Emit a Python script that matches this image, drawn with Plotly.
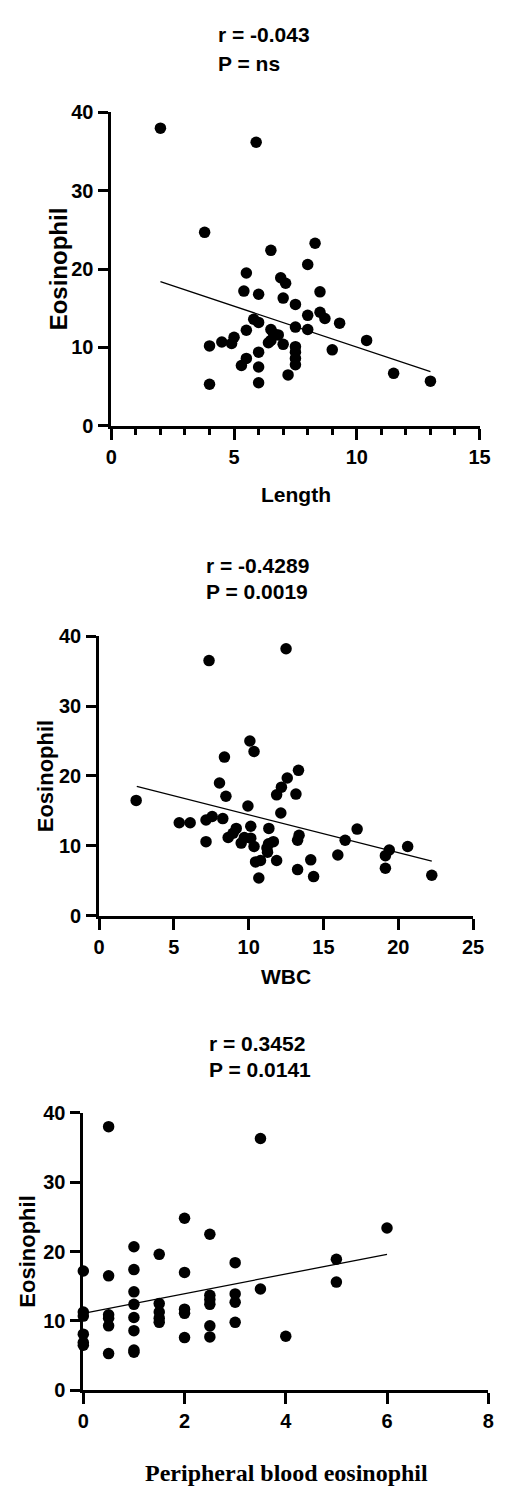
import plotly.graph_objects as go

W, H = 506, 1492

# Panel 1: Length vs Eosinophil
length_x = [2.0, 5.9, 3.8, 6.5, 8.3, 8.0, 5.5, 6.9, 7.1, 5.4, 6.0, 8.5, 7.0, 7.5, 5.8, 6.0,
            8.0, 8.5, 8.7, 9.3, 7.5, 8.0, 5.5, 6.5, 6.6, 6.8, 6.5, 6.4, 7.0, 5.0, 4.9, 4.5,
            4.0, 10.4, 7.5, 7.5, 9.0, 6.0, 7.5, 5.5, 5.3, 6.0, 7.5, 7.2, 11.5, 13.0, 4.0, 6.0]
length_eos = [38.0, 36.2, 24.7, 22.4, 23.3, 20.6, 19.5, 18.9, 18.2, 17.2, 16.8, 17.1, 16.3, 15.5, 13.6, 13.2,
              14.1, 14.5, 13.7, 13.1, 12.6, 12.3, 12.2, 12.3, 11.8, 11.6, 10.9, 10.6, 10.4, 11.3, 10.5, 10.7,
              10.2, 10.9, 10.1, 9.4, 9.7, 9.4, 8.6, 8.6, 7.7, 7.5, 7.8, 6.5, 6.7, 5.7, 5.3, 5.5]
fit1_x = [2.0, 13.0]
fit1_y = [18.4, 6.9]

# Panel 2: WBC vs Eosinophil
wbc_x = [7.35, 12.5, 2.48, 5.36, 6.09, 7.15, 7.56, 8.27, 7.15, 8.05, 8.38, 8.48, 8.63, 8.96, 9.17, 9.5,
         9.71, 9.95, 10.08, 10.36, 10.14, 10.14, 10.36, 10.46, 10.79, 10.68, 11.22, 11.26, 11.35, 11.33,
         11.65, 11.87, 11.87, 12.19, 12.58, 12.15, 13.16, 13.33, 13.27, 13.37, 13.27, 14.15, 14.34, 15.96,
         16.45, 17.25, 19.14, 19.4, 19.14, 20.63, 22.24]
wbc_eos = [36.5, 38.2, 16.5, 13.3, 13.3, 13.7, 14.2, 13.9, 10.6, 19.0, 22.7, 17.1, 11.2, 11.8, 12.5, 10.4,
           11.2, 15.7, 25.0, 23.5, 12.8, 11.1, 9.9, 7.7, 7.9, 5.4, 9.7, 9.1, 12.5, 10.3,
           10.6, 7.9, 17.3, 18.4, 19.7, 14.7, 17.4, 20.8, 10.8, 11.5, 6.6, 8.0, 5.6, 8.7,
           10.8, 12.4, 8.6, 9.4, 6.8, 9.9, 5.8]
fit2_x = [2.52, 22.24]
fit2_y = [18.5, 7.8]

# Panel 3: Peripheral blood eosinophil vs Eosinophil
peb_x = [0.5, 3.5,
         0, 0, 0, 0, 0, 0,
         0.5, 0.5, 0.5, 0.5, 0.5,
         1, 1, 1, 1, 1, 1, 1, 1,
         1.5, 1.5, 1.5, 1.5, 1.5,
         2, 2, 2, 2, 2,
         2.5, 2.5, 2.5, 2.5, 2.5, 2.5,
         3, 3, 3, 3,
         3.5, 4, 5, 5, 6]
peb_eos = [38.0, 36.3,
           17.2, 11.3, 10.7, 8.1, 6.9, 6.5,
           16.5, 10.9, 10.4, 9.3, 5.3,
           20.7, 17.4, 14.2, 12.4, 10.5, 8.6, 5.8, 5.5,
           19.6, 12.5, 11.3, 10.4, 9.8,
           24.8, 17.0, 11.7, 11.1, 7.6,
           22.5, 13.7, 13.1, 12.4, 9.3, 7.7,
           18.4, 13.9, 12.7, 9.8,
           14.6, 7.8, 18.9, 15.6, 23.4]
fit3_x = [0.0, 6.0]
fit3_y = [11.1, 19.6]

titles = [("r = -0.043", "P = ns"), ("r = -0.4289", "P = 0.0019"), ("r = 0.3452", "P = 0.0141")]
x_titles = ["Length", "WBC", "Peripheral blood eosinophil"]
y_title = "Eosinophil"

x_ticks = [[0, 5, 10, 15], [0, 5, 10, 15, 20, 25], [0, 2, 4, 6, 8]]
y_ticks = [0, 10, 20, 30, 40]

SANS = "Liberation Sans, Arial, sans-serif"
SERIF = "Liberation Serif, Times New Roman, serif"


def px_x(p):
    return p / W


def px_y(p):
    return 1 - p / H


panels = [
    dict(x0=109, x1=490, yt=103, yb=421, xr=[0, 15], minor=1),
    dict(x0=96.3, x1=483.3, yt=634.5, yb=918.3, xr=[0, 25], minor=None),
    dict(x0=80, x1=499, yt=1118.3, yb=1400, xr=[0, 8], minor=None),
]

fig = go.Figure()
series = [(length_x, length_eos, fit1_x, fit1_y),
          (wbc_x, wbc_eos, fit2_x, fit2_y),
          (peb_x, peb_eos, fit3_x, fit3_y)]

for i, (sx, sy, fx, fy) in enumerate(series):
    suffix = "" if i == 0 else str(i + 1)
    fig.add_trace(go.Scatter(x=fx, y=fy, mode="lines", line=dict(color="black", width=1.3),
                             xaxis="x" + suffix, yaxis="y" + suffix, showlegend=False, hoverinfo="skip"))
    fig.add_trace(go.Scatter(x=sx, y=sy, mode="markers",
                             marker=dict(color="black", size=11.5, line=dict(width=0)),
                             xaxis="x" + suffix, yaxis="y" + suffix, showlegend=False, cliponaxis=False))

layout = dict(width=W, height=H, margin=dict(l=0, r=0, t=0, b=0),
              plot_bgcolor="white", paper_bgcolor="white", showlegend=False)

tickfont = dict(family=SANS, size=20, color="black")

annotations = []
for i, p in enumerate(panels):
    suffix = "" if i == 0 else str(i + 1)
    xa = dict(domain=[px_x(p["x0"]), px_x(p["x1"])], range=p["xr"], anchor="y" + suffix,
              showline=True, linecolor="black", linewidth=2.8,
              ticks="outside", ticklen=11, tickwidth=2.8, tickcolor="black",
              tickmode="array", tickvals=x_ticks[i], ticktext=["<b>%d</b>" % v for v in x_ticks[i]],
              showgrid=False, zeroline=False, tickfont=tickfont,
              ticklabelstandoff=0)
    if p["minor"]:
        xa["minor"] = dict(dtick=p["minor"], tick0=0, ticks="outside", ticklen=6, tickwidth=2.8,
                           tickcolor="black", showgrid=False)
    ya = dict(domain=[px_y(p["yb"]), px_y(p["yt"])], range=[0, 40], anchor="x" + suffix,
              showline=True, linecolor="black", linewidth=2.8,
              ticks="outside", ticklen=10, tickwidth=2.8, tickcolor="black",
              tickmode="array", tickvals=y_ticks, ticktext=["<b>%d</b>" % v for v in y_ticks],
              showgrid=False, zeroline=False, tickfont=tickfont,
              ticklabelstandoff=1)
    layout["xaxis" + suffix] = xa
    layout["yaxis" + suffix] = ya

# Titles (r / P lines)
title_pos = [(217, 24.3, 53.0), (205, 562.7, 589.3), (208, 1048.0, 1074.3)]
for (l1, l2), (tx, ty1, ty2) in zip(titles, title_pos):
    for txt, ty in ((l1, ty1), (l2, ty2)):
        annotations.append(dict(text="<b>%s</b>" % txt, x=px_x(tx), y=px_y(ty), xref="paper", yref="paper",
                                xanchor="left", yanchor="middle", showarrow=False,
                                font=dict(family=SANS, size=21, color="black")))

# x-axis titles
xt_pos = [(300, 491, SANS, 21), (290, 980, SANS, 21), (290, 1484, SERIF, 24)]
for txt, (cx, cy, fam, fs) in zip(x_titles, xt_pos):
    annotations.append(dict(text="<b>%s</b>" % txt, x=px_x(cx), y=px_y(cy), xref="paper", yref="paper",
                            xanchor="center", yanchor="middle", showarrow=False,
                            font=dict(family=fam, size=fs, color="black")))

# y-axis titles
yt_pos = [(54.5, 261.5, 24), (41.7, 776.4, 22), (22.2, 1258.8, 22)]
for (cx, cy, fs) in yt_pos:
    annotations.append(dict(text="<b>%s</b>" % y_title, x=px_x(cx), y=px_y(cy), xref="paper", yref="paper",
                            xanchor="center", yanchor="middle", showarrow=False, textangle=-90,
                            font=dict(family=SANS, size=fs, color="black")))

layout["annotations"] = annotations
fig.update_layout(**layout)
fig.write_html("out.html")
